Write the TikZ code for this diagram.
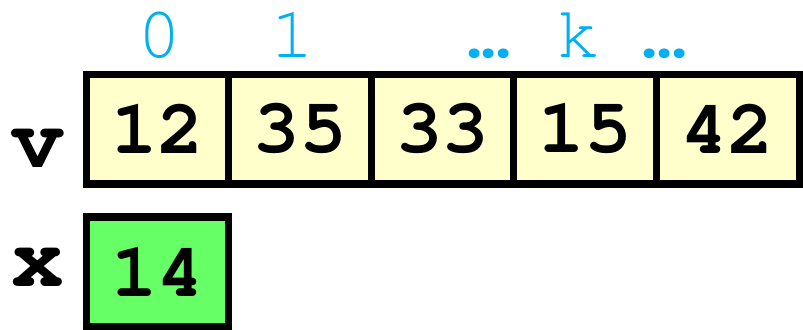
\documentclass[tikz,border=0pt]{standalone}
\usepackage[T1]{fontenc}
\usepackage{tikz}
\definecolor{idx-blue}{HTML}{00B0F0}
\definecolor{cell-yellow}{HTML}{FFFFCC}
\definecolor{cell-green}{HTML}{66FF66}
\usetikzlibrary{positioning}
\newcommand{\courbold}[1]{\fontsize{#1}{#1}\fontfamily{pcr}\fontseries{b}\selectfont}
\newcommand{\courplain}[1]{\fontsize{#1}{#1}\fontfamily{pcr}\fontseries{m}\selectfont}
\newcommand{\idxdots}{.\kern-0.4em.\kern-0.4em.}

\begin{document}
\begin{tikzpicture}[x=0.02cm, y=-0.02cm, node distance=0cm and 0cm,
  cell/.style={rectangle, draw=black, line width=4pt, fill=cell-yellow,
               minimum width=2.852cm, minimum height=2.2cm, inner sep=0pt, outer sep=0pt,
               font=\courbold{44}},
  var/.style={inner sep=0pt, anchor=base east, font=\courbold{50}},
  idx/.style={inner sep=0pt, anchor=base, text=idx-blue, font=\courplain{42}}]

  \useasboundingbox (0,0) rectangle (803,329);

  % array v
  \node[cell] (c0) at (157.5,129) {12};
  \node[cell, right=of c0] (c1) {35};
  \node[cell, right=of c1] (c2) {33};
  \node[cell, right=of c2] (c3) {15};
  \node[cell, right=of c3] (c4) {42};

  % variable x
  \node[cell, fill=cell-green, below=0.66cm of c0] (xc) {14};

  \node[var] (vlbl) at ([xshift=-0.44cm, yshift=0.34cm]c0.south west) {v};
  \node[var] (xlbl) at ([xshift=-0.44cm, yshift=0.8cm]xc.south west) {x};

  % indices
  \node[idx] (i0) at ([xshift=0.05cm, yshift=0.34cm]c0.north) {0};
  \node[idx] (i1) at ([xshift=-0.14cm, yshift=0.34cm]c1.north) {1};
  \node[idx] (d1) at ([xshift=-0.5cm, yshift=0.34cm]c2.north east) {\idxdots};
  \node[idx] (ik) at ([xshift=-0.13cm, yshift=0.34cm]c3.north) {k};
  \node[idx] (d2) at ([xshift=0.16cm, yshift=0.34cm]c4.north west) {\idxdots};

\end{tikzpicture}
\end{document}
